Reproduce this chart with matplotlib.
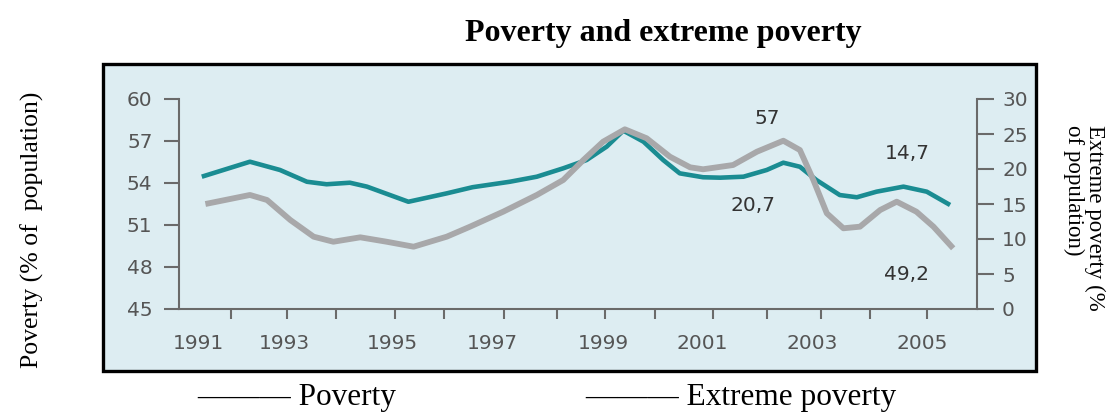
import matplotlib
matplotlib.use('Agg')
import matplotlib.pyplot as plt
from matplotlib.patches import Rectangle

# poverty (% of population), left axis
pov_years = [1991.07, 1992.0, 1992.58, 1993.1, 1993.48, 1993.93, 1994.26, 1995.06,
             1995.8, 1996.3, 1997.02, 1997.54, 1998.05, 1998.5, 1998.89, 1999.21,
             1999.6, 1999.98, 2000.3, 2000.75, 2001.08, 2001.53, 2001.98, 2002.3,
             2002.62, 2002.94, 2003.39, 2003.72, 2004.1, 2004.62, 2005.07, 2005.52]
pov_vals = [54.45, 55.52, 54.93, 54.09, 53.91, 54.02, 53.74, 52.66,
            53.26, 53.7, 54.09, 54.45, 55.05, 55.64, 56.6, 57.74,
            56.95, 55.64, 54.69, 54.41, 54.38, 54.45, 54.93, 55.45,
            55.16, 54.21, 53.14, 52.98, 53.38, 53.74, 53.38, 52.43]

# extreme poverty (% of population), right axis
ext_years = [1991.14, 1992.0, 1992.33, 1992.78, 1993.23, 1993.61, 1994.13, 1994.64,
             1995.16, 1995.8, 1996.25, 1996.89, 1997.54, 1998.05, 1998.44, 1998.82,
             1999.24, 1999.66, 2000.11, 2000.5, 2000.75, 2001.33, 2001.79, 2002.3,
             2002.62, 2002.88, 2003.14, 2003.46, 2003.78, 2004.17, 2004.49, 2004.87,
             2005.2, 2005.58]
ext_vals = [15.0, 16.29, 15.57, 12.71, 10.33, 9.61, 10.24, 9.61,
            8.9, 10.33, 11.76, 13.9, 16.29, 18.43, 21.29, 23.9,
            25.67, 24.39, 21.76, 20.24, 19.96, 20.57, 22.47, 24.04,
            22.71, 18.43, 13.67, 11.53, 11.76, 14.14, 15.33, 13.9,
            11.76, 8.67]

year_labels = ['1991', '1993', '1995', '1997', '1999', '2001', '2003', '2005']
left_ticks = [45, 48, 51, 54, 57, 60]
right_ticks = [0, 5, 10, 15, 20, 25, 30]
notes = ['57', '14,7', '20,7', '49,2']

# layout of the source picture (tick marks do not line up with labels)
label_pos = [1991.0, 1992.66, 1994.76, 1996.69, 1998.82, 2000.73, 2002.85, 2004.99]
mark_pos = [1991.64, 1992.72, 1993.66, 1994.8, 1995.75, 1996.9, 1997.92, 1998.86,
            1999.83, 2000.94, 2001.98, 2003.02, 2003.97, 2005.07]
note_pos = [(2001.98, 58.6), (2004.69, 56.1), (2001.71, 52.36), (2004.67, 47.43)]

teal = '#1a8c92'
grey = '#a8a8aa'
axc = '#6a6a6a'
txt = '#555555'
bg = '#ddedf2'
tfont = 'DejaVu Sans'
serif = 'Liberation Serif'
fs = 14.5

fig = plt.figure(figsize=(11.13, 4.12), dpi=100)
fig.patches.append(Rectangle((103/1113, 1-371/412), 933/1113, 307/412,
                             transform=fig.transFigure, facecolor=bg,
                             edgecolor='black', lw=2.4, zorder=-10))

ax = fig.add_axes([179/1113, 1-309/412, 798/1113, 210/412])
ax.set_facecolor('none')
ax.plot(pov_years, pov_vals, color=teal, lw=3.3, solid_capstyle='butt',
        solid_joinstyle='round')
ax.set_xlim(1990.63, 2006.04)
ax.set_ylim(45, 60)
ax.set_yticks(left_ticks)
ax.set_yticklabels([str(v) for v in left_ticks], fontfamily=tfont, fontsize=fs, color=txt)
ax.set_xticks(mark_pos)
ax.set_xticklabels([])
ax.set_xticks(label_pos, minor=True)
ax.set_xticklabels(year_labels, minor=True, fontfamily=tfont, fontsize=fs, color=txt)
ax.tick_params(axis='x', which='major', direction='out', length=7, width=1.5, color=axc)
ax.tick_params(axis='x', which='minor', length=0, pad=18)
ax.tick_params(axis='y', direction='out', length=11, width=1.5, color=axc, pad=8)
for s in ['top', 'right']:
    ax.spines[s].set_visible(False)
for s in ['left', 'bottom']:
    ax.spines[s].set_color(axc)
    ax.spines[s].set_linewidth(1.5)

ax2 = ax.twinx()
ax2.plot(ext_years, ext_vals, color=grey, lw=4.2, solid_capstyle='butt',
         solid_joinstyle='round')
ax2.set_ylim(0, 30)
ax2.set_yticks(right_ticks)
ax2.set_yticklabels([str(v) for v in right_ticks], fontfamily=tfont, fontsize=fs, color=txt)
ax2.tick_params(axis='y', direction='out', length=12, width=1.5, color=axc, pad=6)
for s in ['top', 'left', 'bottom']:
    ax2.spines[s].set_visible(False)
ax2.spines['right'].set_color(axc)
ax2.spines['right'].set_linewidth(1.5)

for t, (x, y) in zip(notes, note_pos):
    ax.text(x, y, t, ha='center', va='center', fontfamily=tfont, fontsize=fs, color='#333333')

fig.text(663/1113, 1-33/412, 'Poverty and extreme poverty', ha='center', va='center',
         fontfamily=serif, fontweight='bold', fontsize=23)
fig.text(32/1113, 1-230/412, 'Poverty (% of  population)', rotation=90,
         ha='center', va='center', fontfamily=serif, fontsize=18.5)
fig.text(1084/1113, 1-218/412, 'Extreme poverty (%\nof population)', rotation=-90,
         ha='center', va='center', multialignment='left', fontfamily=serif, fontsize=16.5,
         linespacing=0.95)
fig.text(197/1113, 1-398/412, '\u2014\u2014\u2014 Poverty', ha='left', va='center',
         fontfamily=serif, fontsize=22.5)
fig.text(585/1113, 1-398/412, '\u2014\u2014\u2014 Extreme poverty', ha='left', va='center',
         fontfamily=serif, fontsize=22.5)

fig.savefig('out.png', dpi=100)
